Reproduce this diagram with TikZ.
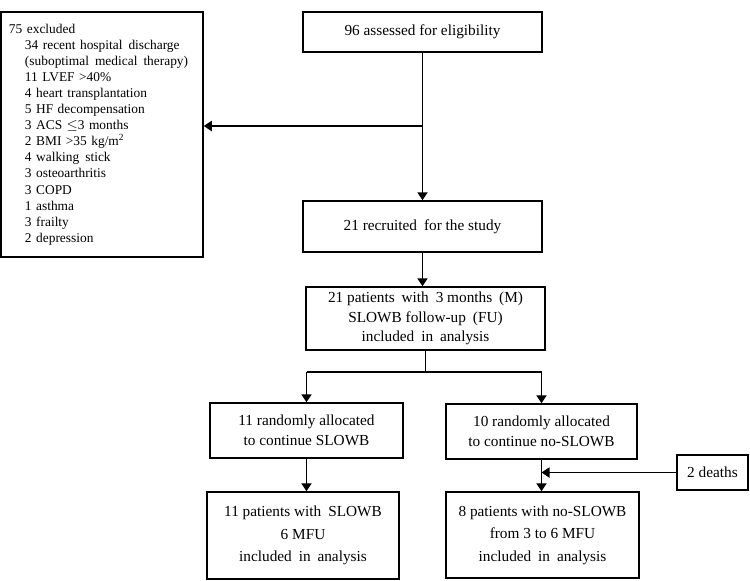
\documentclass[tikz,border=0pt]{standalone}
\usepackage{fontspec}
\setmainfont{Liberation Serif}
\usetikzlibrary{arrows.meta}
\newcommand{\wsp}{\hspace{0.45em}}
\begin{document}
\begin{tikzpicture}[x=1pt,y=1pt,
  box/.style={draw=black, line width=1.5pt, fill=white, inner sep=0pt, align=center,
    font=\fontsize{15.3}{19.5}\selectfont},
  arr/.style={line width=1.8pt, -{Triangle[width=10pt,length=8pt]}},
  ln/.style={line width=1.8pt}]
\useasboundingbox (0,0) rectangle (750,-581);
\fill[white] (0,0) rectangle (750,-581);

\node[box, minimum width=239, minimum height=40] (top) at (422.5,-32) {96 assessed for eligibility};
\node[box, minimum width=202, minimum height=245, align=left, text width=186,
  font=\fontsize{13.4}{16.08}\selectfont] (excl) at (102,-134.5) {75 excluded\\
\hspace*{16pt}34 recent hospital\wsp discharge\\
\hspace*{16pt}(suboptimal\wsp medical\wsp therapy)\\
\hspace*{16pt}11 LVEF >40\%\\
\hspace*{16pt}4 heart transplantation\\
\hspace*{16pt}5 HF decompensation\\
\hspace*{16pt}3 ACS $\leq$3 months\\
\hspace*{16pt}2 BMI >35 kg/m\textsuperscript{2}\\
\hspace*{16pt}4 walking\wsp stick\\
\hspace*{16pt}3 osteoarthritis\\
\hspace*{16pt}3 COPD\\
\hspace*{16pt}1 asthma\\
\hspace*{16pt}3 frailty\\
\hspace*{16pt}2 depression};
\node[box, minimum width=239, minimum height=51] (rec) at (422.5,-226.5) {21 recruited\wsp for the study};
\node[box, minimum width=239, minimum height=63] (fu) at (425.5,-318.5) {21 patients\wsp with\wsp 3 months\wsp (M)\\ SLOWB follow-up\wsp (FU)\\ included\wsp in\wsp analysis};
\node[box, minimum width=193, minimum height=55] (midl) at (306.5,-430.5) {11 randomly allocated\\ to continue SLOWB};
\node[box, minimum width=191, minimum height=55] (midr) at (541.5,-431.5) {10 randomly allocated\\ to continue no-SLOWB};
\node[box, minimum width=192, minimum height=87, font=\fontsize{15.3}{22.5}\selectfont] (botl) at (303,-535.5) {11 patients with\wsp SLOWB\\ 6 MFU\\ included\wsp in\wsp analysis};
\node[box, minimum width=193, minimum height=86, font=\fontsize{15.3}{22.5}\selectfont] (botr) at (542.5,-535) {8 patients with no-SLOWB\\ from 3 to 6 MFU\\ included\wsp in\wsp analysis};
\node[box, minimum width=71, minimum height=35] (death) at (712.5,-472.5) {2 deaths};

\coordinate (b1) at (422.5,-126);
\draw[arr] (top.south) -- (rec.north);
\draw[arr] (b1) -- (excl.east |- b1);
\draw[arr] (rec.south) -- (rec.south |- fu.north);
\coordinate (split) at (425.5,-372);
\coordinate (sl) at (306.5,-372);
\coordinate (sr) at (541.5,-372);
\draw[ln] (fu.south) -- (split);
\draw[ln] (sl) -- (sr);
\draw[arr] (sl) -- (midl.north);
\draw[arr] (sr) -- (midr.north);
\draw[arr] (midl.south) -- (midl.south |- botl.north);
\draw[arr] (midr.south) -- (midr.south |- botr.north);
\coordinate (dj) at (541.5,-472.5);
\draw[arr] (death.west) -- (dj);
\end{tikzpicture}
\end{document}
